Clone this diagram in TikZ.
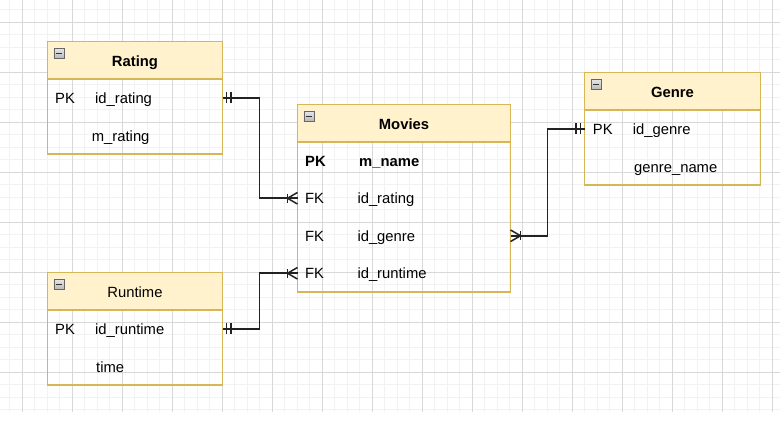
\documentclass[tikz,border=0pt]{standalone}
\usepackage{fontspec}
\setmainfont{Liberation Sans}
\definecolor{hdrfill}{HTML}{FFF2CC}
\definecolor{tblborder}{HTML}{D6B656}
\definecolor{gridminor}{HTML}{F2F2F2}
\definecolor{gridmajor}{HTML}{D8D8D8}
\definecolor{connclr}{HTML}{222222}
\begin{document}
\begin{tikzpicture}[x=1pt,y=-1pt,
  font=\fontsize{14.8}{17}\selectfont,
  tblbox/.style={draw=tblborder, line width=1.6pt, anchor=north west, minimum width=#1, minimum height=0pt, inner sep=0pt, outer sep=0pt},
  hdrbox/.style={draw=tblborder, fill=hdrfill, line width=1.6pt, anchor=north west, minimum width=#1, minimum height=37.5pt, inner sep=0pt, outer sep=0pt},
  rowbox/.style={anchor=north west, minimum width=#1, minimum height=37.5pt, inner sep=0pt, outer sep=0pt},
  fieldtxt/.style={anchor=base west, inner sep=0pt},
  titletxt/.style={anchor=base, inner sep=0pt, font=\fontsize{14.8}{17}\selectfont\bfseries},
  minusicon/.style={anchor=north west, draw=gray!80!black, line width=0.6pt, top color=gray!20, bottom color=gray!55, minimum width=10.5pt, minimum height=10pt, inner sep=0pt,
    path picture={\draw[black!80, line width=1.3pt] ([xshift=2pt]path picture bounding box.west) -- ([xshift=-2pt]path picture bounding box.east);}},
  conn/.style={draw=connclr, line width=1.6pt},
  endmark/.style={draw=connclr, line width=1.5pt}
]
\useasboundingbox (0,0) rectangle (780,432);
% grid
\foreach \i in {0,...,62} {\draw[gridminor, line width=1pt] ({9.8+12.5*\i},0) -- ({9.8+12.5*\i},412);}
\foreach \j in {0,...,32} {\draw[gridminor, line width=1pt] (0,{9.8+12.5*\j}) -- (780,{9.8+12.5*\j});}
\foreach \i in {0,...,15} {\draw[gridmajor, line width=1pt] ({22.3+50*\i},0) -- ({22.3+50*\i},412);}
\foreach \j in {0,...,7} {\draw[gridmajor, line width=1pt] (0,{22.3+50*\j}) -- (780,{22.3+50*\j});}

% ---------- Rating ----------
\node[hdrbox=175pt] (ratingH) at (47.5,41.5) {};
\node[tblbox=175pt, minimum height=112.5pt] (rating) at (47.5,41.5) {};
\node[minusicon] (ratingI) at ([xshift=6pt,yshift=-6.5pt]ratingH.north west) {};
\node[titletxt] (ratingT) at ([yshift=-5.8pt]ratingH.center) {Rating};
\node[rowbox=175pt] (ratingR1) at (47.5,79) {};
\node[rowbox=175pt] (ratingR2) at (47.5,116.5) {};
\node[fieldtxt] (ratingK1) at (55,103.8) {PK};
\node[fieldtxt] (ratingF1) at (95,103.8) {id\_rating};
\node[fieldtxt] (ratingF2) at (91.7,141.3) {m\_rating};

% ---------- Movies ----------
\node[hdrbox=213pt] (moviesH) at (297.5,104.5) {};
\node[tblbox=213pt, minimum height=187.5pt] (movies) at (297.5,104.5) {};
\node[minusicon] (moviesI) at ([xshift=6pt,yshift=-6.5pt]moviesH.north west) {};
\node[titletxt] (moviesT) at ([yshift=-5.8pt]moviesH.center) {Movies};
\node[rowbox=213pt] (moviesR1) at (297.5,142) {};
\node[rowbox=213pt] (moviesR2) at (297.5,179.5) {};
\node[rowbox=213pt] (moviesR3) at (297.5,217) {};
\node[rowbox=213pt] (moviesR4) at (297.5,254.5) {};
\node[fieldtxt, font=\fontsize{14.8}{17}\selectfont\bfseries] (moviesK1) at (305,166.2) {PK};
\node[fieldtxt, font=\fontsize{14.8}{17}\selectfont\bfseries] (moviesF1) at (359,166.2) {m\_name};
\node[fieldtxt] (moviesK2) at (305,203.9) {FK};
\node[fieldtxt] (moviesF2) at (357.3,203.9) {id\_rating};
\node[fieldtxt] (moviesK3) at (305,241.4) {FK};
\node[fieldtxt] (moviesF3) at (357.3,241.4) {id\_genre};
\node[fieldtxt] (moviesK4) at (305,278.9) {FK};
\node[fieldtxt] (moviesF4) at (357.3,278.9) {id\_runtime};

% ---------- Genre ----------
\node[hdrbox=176pt] (genreH) at (584.5,72.5) {};
\node[tblbox=176pt, minimum height=112.5pt] (genre) at (584.5,72.5) {};
\node[minusicon] (genreI) at ([xshift=6pt,yshift=-6.5pt]genreH.north west) {};
\node[titletxt] (genreT) at ([yshift=-5.8pt]genreH.center) {Genre};
\node[rowbox=176pt] (genreR1) at (584.5,110) {};
\node[rowbox=176pt] (genreR2) at (584.5,147.5) {};
\node[fieldtxt] (genreK1) at (592.7,134.6) {PK};
\node[fieldtxt] (genreF1) at (632.7,134.6) {id\_genre};
\node[fieldtxt] (genreF2) at (634,172.1) {genre\_name};

% ---------- Runtime ----------
\node[hdrbox=175pt] (runtimeH) at (47.5,272.5) {};
\node[tblbox=175pt, minimum height=112.5pt] (runtime) at (47.5,272.5) {};
\node[minusicon] (runtimeI) at ([xshift=6pt,yshift=-6.5pt]runtimeH.north west) {};
\node[titletxt, font=\fontsize{14.8}{17}\selectfont] (runtimeT) at ([yshift=-5.8pt]runtimeH.center) {Runtime};
\node[rowbox=175pt] (runtimeR1) at (47.5,310) {};
\node[rowbox=175pt] (runtimeR2) at (47.5,347.5) {};
\node[fieldtxt] (runtimeK1) at (55,334.6) {PK};
\node[fieldtxt] (runtimeF1) at (95,334.6) {id\_runtime};
\node[fieldtxt] (runtimeF2) at (96,372.1) {time};

% ---------- Connectors ----------
\draw[conn] (ratingR1.east) -- ++(37,0) |- (moviesR2.west);
\draw[conn] (runtimeR1.east) -- ++(37,0) |- (moviesR4.west);
\draw[conn] (moviesR3.east) -- ++(37,0) |- (genreR1.west);

% mandatory-one marks (double bars)
\foreach \n/\s in {ratingR1.east/1, runtimeR1.east/1, genreR1.west/-1} {
  \draw[endmark] ([xshift=\s*4.2pt, yshift=5.5pt]\n) -- ([xshift=\s*4.2pt, yshift=-5.5pt]\n);
  \draw[endmark] ([xshift=\s*8.6pt, yshift=5.5pt]\n) -- ([xshift=\s*8.6pt, yshift=-5.5pt]\n);
}
% one-to-many marks (bar + crow's foot)
\foreach \n/\s in {moviesR2.west/-1, moviesR4.west/-1, moviesR3.east/1} {
  \draw[endmark] ([xshift=\s*10pt, yshift=4.5pt]\n) -- ([xshift=\s*10pt, yshift=-4.5pt]\n);
  \draw[endmark] ([yshift=5.8pt]\n) -- ([xshift=\s*10pt]\n) -- ([yshift=-5.8pt]\n);
}
\end{tikzpicture}
\end{document}
